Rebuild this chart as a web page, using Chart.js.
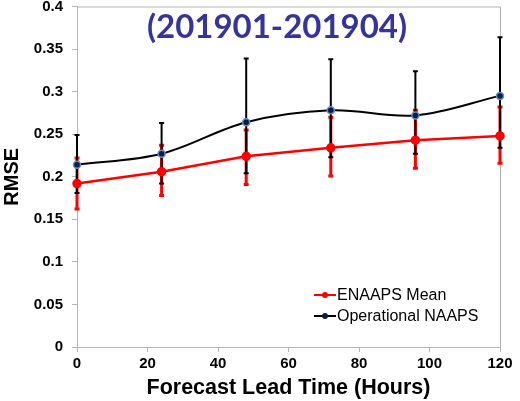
<!DOCTYPE html>
<html>
<head>
<meta charset="utf-8">
<script src="https://cdn.jsdelivr.net/npm/chart.js@4.4.1/dist/chart.umd.min.js"></script>
<style>
  body { margin: 0; background: #fff; }
  #wrap { width: 520px; height: 401px; }
</style>
</head>
<body>
<div id="wrap"><canvas id="rmseChart" width="520" height="401"></canvas></div>
<script>
// Dane
const leadHours = [0, 24, 48, 72, 96, 120];
const enaapsMean = [0.192, 0.206, 0.224, 0.234, 0.243, 0.248];
const enaapsLow = [0.162, 0.178, 0.191, 0.201, 0.210, 0.216];
const enaapsHigh = [0.222, 0.237, 0.255, 0.270, 0.278, 0.282];
const naapsMean = [0.214, 0.227, 0.264, 0.278, 0.272, 0.295];
const naapsLow = [0.181, 0.192, 0.204, 0.223, 0.227, 0.234];
const naapsHigh = [0.249, 0.263, 0.339, 0.338, 0.324, 0.364];
const yTicks = [0, 0.05, 0.1, 0.15, 0.2, 0.25, 0.3, 0.35, 0.4];
const titleText = '(201901-201904)';

const gray = '#b3b3b3';

// Słupki błędów rysowane przez skale wykresu
const errorBars = {
    id: 'errorBars',
    beforeDatasetsDraw(chart) {
        const ctx = chart.ctx;
        const xs = chart.scales.x, ys = chart.scales.y;
        const sets = [
            { low: enaapsLow, high: enaapsHigh, color: '#ff0000', width: 3 },
            { low: naapsLow, high: naapsHigh, color: '#000000', width: 2 }
        ];
        ctx.save();
        sets.forEach(s => {
            ctx.strokeStyle = s.color;
            ctx.lineWidth = s.width;
            leadHours.forEach((h, i) => {
                const x = xs.getPixelForValue(h);
                const y1 = ys.getPixelForValue(s.low[i]);
                const y2 = ys.getPixelForValue(s.high[i]);
                ctx.beginPath();
                ctx.moveTo(x, y1); ctx.lineTo(x, y2);
                ctx.moveTo(x - 2.5, y1); ctx.lineTo(x + 2.5, y1);
                ctx.moveTo(x - 2.5, y2); ctx.lineTo(x + 2.5, y2);
                ctx.stroke();
            });
        });
        ctx.restore();
    }
};

// Ramka, tytuł i legenda wewnątrz obszaru wykresu
const decorations = {
    id: 'decorations',
    beforeDraw(chart) {
        const a = chart.chartArea, ctx = chart.ctx;
        ctx.save();
        ctx.strokeStyle = gray;
        ctx.lineWidth = 1;
        ctx.beginPath();
        ctx.moveTo(a.left, a.top + 0.5); ctx.lineTo(a.right + 0.5, a.top + 0.5);
        ctx.lineTo(a.right + 0.5, a.bottom);
        ctx.stroke();
        ctx.restore();
    },
    afterDraw(chart) {
        const ctx = chart.ctx;
        ctx.save();
        ctx.fillStyle = '#35349a';
        ctx.font = 'bold 33px Lato';
        ctx.textAlign = 'center';
        ctx.textBaseline = 'alphabetic';
        ctx.fillText(titleText, 277, 38);

        ctx.font = '16px "Liberation Sans"';
        ctx.textAlign = 'left';
        ctx.textBaseline = 'middle';
        const rows = [295, 316];
        chart.data.datasets.forEach((ds, i) => {
            const y = rows[i];
            ctx.strokeStyle = ds.borderColor;
            ctx.lineWidth = 2;
            ctx.beginPath(); ctx.moveTo(314, y); ctx.lineTo(336, y); ctx.stroke();
            ctx.fillStyle = ds.pointBackgroundColor;
            ctx.beginPath(); ctx.arc(325, y, 3, 0, Math.PI * 2); ctx.fill();
            ctx.fillStyle = '#000';
            ctx.fillText(ds.label, 337, y + 1);
        });
        ctx.restore();
    }
};

new Chart(document.getElementById('rmseChart'), {
    type: 'line',
    data: {
        datasets: [{
            label: 'ENAAPS Mean',
            data: leadHours.map((h, i) => ({ x: h, y: enaapsMean[i] })),
            borderColor: '#ff0000',
            borderWidth: 2.5,
            pointBackgroundColor: '#ff0000',
            pointBorderColor: '#ff0000',
            pointRadius: 3.5,
            tension: 0,
            clip: false,
            order: 1
        }, {
            label: 'Operational NAAPS',
            data: leadHours.map((h, i) => ({ x: h, y: naapsMean[i] })),
            borderColor: '#000000',
            borderWidth: 2,
            pointBackgroundColor: '#0d1b3e',
            pointBorderColor: '#5b8ec9',
            pointBorderWidth: 1.5,
            pointRadius: 3.5,
            tension: 0.35,
            clip: false,
            order: 0
        }]
    },
    options: {
        responsive: false,
        animation: false,
        layout: { padding: { top: 5, right: 20, left: 0, bottom: 0 } },
        plugins: { legend: { display: false }, tooltip: { enabled: false } },
        scales: {
            x: {
                type: 'linear', min: 0, max: 120,
                ticks: { stepSize: 20, color: '#000', font: { family: 'Liberation Sans', size: 15, weight: 'bold' }, padding: 3 },
                grid: { drawOnChartArea: false, color: gray, tickLength: 5 },
                border: { color: gray },
                title: { display: true, text: 'Forecast Lead Time (Hours)', color: '#000', font: { family: 'Liberation Sans', size: 21.5, weight: 'bold' }, padding: 0 },
                afterFit(scale) { scale.height = 54; scale.paddingRight = 12; }
            },
            y: {
                min: 0, max: 0.4,
                afterBuildTicks(scale) { scale.ticks = yTicks.map(v => ({ value: v })); },
                ticks: { color: '#000', font: { family: 'Liberation Sans', size: 15, weight: 'bold' }, padding: 9, callback: v => String(+v.toFixed(2)) },
                grid: { drawOnChartArea: false, color: gray, tickLength: 5 },
                border: { color: gray },
                title: { display: true, text: 'RMSE', color: '#000', font: { family: 'Liberation Sans', size: 20, weight: 'bold' }, padding: { top: 0, bottom: 4 } },
                afterFit(scale) { scale.width = 77; scale.paddingTop = 0; }
            }
        }
    },
    plugins: [errorBars, decorations]
});
</script>
</body>
</html>
